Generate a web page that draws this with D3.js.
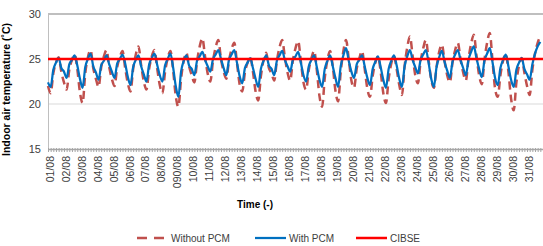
<!DOCTYPE html>
<html>
<head>
<meta charset="utf-8">
<script src="https://cdn.jsdelivr.net/npm/d3@7"></script>
<style>
  body { margin: 0; background: #fff; }
  text { font-family: "Liberation Sans", Arial, sans-serif; fill: #404040; }
  .label-text { font-weight: bold; fill: #000; }
</style>
</head>
<body>
<script>
var margin = {top: 14, right: 0, bottom: 97, left: 48},
    width = 543 - margin.left - margin.right,
    height = 246 - margin.top - margin.bottom;

// day labels (the 9th really is "090/08" in the original)
var dayLabels = ["01/08","02/08","03/08","04/08","05/08","06/08","07/08","08/08","090/08","10/08",
  "11/08","12/08","13/08","14/08","15/08","16/08","17/08","18/08","19/08","20/08",
  "21/08","22/08","23/08","24/08","25/08","26/08","27/08","28/08","29/08","30/08","31/08"];

// sample hours within each day
var sampleHours = [0, 4, 8, 12, 16, 20];

// indoor temperature without PCM, 6 samples per day
var withoutPCM = [
  22.0,21.2,23.4,24.6,25.2,23.6, 22.4,21.6,23.8,24.9,25.5,23.9, 21.3,20.1,23.4,25.2,26.0,24.0,
  22.8,21.9,24.1,25.3,26.0,24.1, 22.8,22.0,24.1,25.2,25.9,24.0, 22.3,21.4,23.9,25.5,26.4,24.3,
  22.5,21.6,23.9,25.3,26.0,24.0, 22.1,21.2,23.6,25.1,25.9,23.8, 20.9,19.7,22.8,24.8,25.7,24.2,
  23.2,22.4,24.7,26.4,27.3,25.3, 23.4,22.5,24.8,26.3,27.1,25.0, 23.6,22.8,24.8,26.1,26.8,24.6,
  22.2,21.4,23.5,24.6,25.2,23.6, 21.4,20.4,23.1,24.9,25.7,24.0, 23.4,22.6,24.8,26.3,27.1,25.2,
  23.5,22.6,24.8,26.2,27.0,24.8, 22.4,21.6,23.8,25.1,25.9,23.8, 20.9,19.7,22.9,24.9,25.9,24.2,
  21.5,20.3,23.6,25.9,27.1,25.0, 22.6,21.8,23.9,25.1,25.9,23.9, 21.7,20.8,23.1,24.6,25.3,23.6,
  21.2,20.1,22.8,24.5,25.3,23.9, 22.1,21.0,24.2,26.3,27.5,25.4, 23.2,22.3,24.7,26.2,27.1,24.9,
  22.7,21.8,24.1,25.8,26.6,24.8, 23.2,22.4,24.6,26.0,26.8,25.0, 23.5,22.6,25.0,26.7,27.7,25.4,
  23.2,22.2,24.9,26.8,27.9,24.9, 21.7,20.8,23.2,24.8,25.6,23.6, 20.6,19.3,22.4,24.3,25.1,23.5,
  22.0,21.0,23.8,25.6,26.8,27.5
];

// indoor temperature with PCM, 6 samples per day
var withPCM = [
  22.4,21.9,23.8,24.6,25.1,24.0, 23.6,22.9,24.4,24.9,25.4,24.3, 22.8,21.8,24.1,25.0,25.6,24.2,
  23.5,22.7,24.3,24.8,25.4,24.4, 23.6,22.9,24.5,25.0,25.5,24.5, 23.0,22.1,24.1,24.9,25.4,24.2,
  23.3,22.5,24.4,25.1,25.6,24.4, 23.2,22.5,24.3,25.0,25.6,24.1, 22.0,20.8,23.6,24.8,25.4,24.3,
  23.9,23.2,24.8,25.3,25.8,24.9, 24.2,23.6,25.0,25.5,26.0,25.0, 24.0,23.2,24.9,25.5,26.0,24.6,
  23.1,22.3,24.0,24.6,25.1,24.0, 22.8,21.9,23.9,24.8,25.4,24.3, 23.9,23.2,24.8,25.4,25.9,24.9,
  24.2,23.6,24.9,25.3,25.8,24.6, 23.2,22.5,24.2,24.9,25.4,24.1, 22.7,21.9,23.9,24.8,25.4,24.2,
  22.9,21.9,24.2,25.4,26.2,24.8, 23.6,22.9,24.4,24.9,25.4,24.2, 22.9,22.1,23.9,24.7,25.3,24.1,
  22.7,21.8,23.9,24.8,25.4,24.3, 22.8,21.9,24.2,25.3,26.0,24.9, 24.1,23.4,24.9,25.5,26.0,24.6,
  22.8,21.9,24.1,25.2,25.9,24.7, 23.7,22.9,24.7,25.5,26.0,24.9, 24.0,23.2,24.9,25.8,26.4,25.1,
  23.9,23.0,24.8,25.6,26.2,24.7, 22.9,22.1,24.0,24.9,25.5,24.2, 22.7,21.9,23.8,24.6,25.1,23.9,
  23.3,22.7,24.4,25.6,26.4,26.9
];

var cibse = 25;
var yTicks = [15, 20, 25, 30];

var seriesNames = ["Without PCM", "With PCM", "CIBSE"];

function toPoints(vals) {
  return vals.map(function(v, i) {
    var day = Math.floor(i / sampleHours.length);
    return {h: day * 24 + sampleHours[i % sampleHours.length], t: v};
  });
}

var x = d3.scaleLinear().domain([0, dayLabels.length * 24]).range([0, width]);
var y = d3.scaleLinear().domain([15, 30]).range([height, 0]);

var svg = d3.select("body").append("svg")
    .attr("width", 543)
    .attr("height", 246)
  .append("g")
    .attr("transform", "translate(" + margin.left + "," + margin.top + ")");

// gridlines
svg.append("g")
    .selectAll("line")
    .data(yTicks.slice(1))
    .enter().append("line")
    .attr("x1", 0).attr("x2", width)
    .attr("y1", function(d) { return y(d); })
    .attr("y2", function(d) { return y(d); })
    .style("stroke", function(d) { return d == 30 ? "#bfbfbf" : "#d9d9d9"; })
    .style("stroke-width", function(d) { return d == 30 ? 2 : 1; });

// y axis
var yAxis = svg.append("g")
    .call(d3.axisLeft(y).tickValues(yTicks).tickSize(0).tickPadding(7));
yAxis.select(".domain").style("stroke", "#bfbfbf");
yAxis.selectAll("text").style("font-size", "11px").style("fill", "#404040");

// x axis with dense minor ticks
var minorTicks = d3.range(0, dayLabels.length * 24 + 1, 4);
var xMinor = svg.append("g")
    .attr("transform", "translate(0," + height + ")")
    .call(d3.axisBottom(x).tickValues(minorTicks).tickFormat("").tickSize(3).tickSizeOuter(0));
xMinor.select(".domain").style("stroke", "#a6a6a6").style("stroke-width", 1.5);
xMinor.selectAll(".tick line").style("stroke", "#a6a6a6").attr("y1", -1);

// day labels
svg.append("g")
    .selectAll("text")
    .data(dayLabels)
    .enter().append("text")
    .attr("transform", function(d, i) {
      return "translate(" + (x(i * 24) + 2) + "," + (height + 7) + ") rotate(-90)";
    })
    .attr("dy", "0.35em")
    .style("text-anchor", "end")
    .style("font-size", "10.5px")
    .text(function(d) { return d; });

var line = d3.line()
    .x(function(d) { return x(d.h); })
    .y(function(d) { return y(d.t); })
    .curve(d3.curveMonotoneX);

svg.append("path")
    .datum(toPoints(withoutPCM))
    .attr("d", line)
    .style("fill", "none")
    .style("stroke", "#c0504d")
    .style("stroke-width", 2.5)
    .style("stroke-dasharray", "8,5");

svg.append("path")
    .datum(toPoints(withPCM))
    .attr("d", line)
    .style("fill", "none")
    .style("stroke", "#0070c0")
    .style("stroke-width", 2.25);

svg.append("line")
    .attr("x1", 0).attr("x2", width)
    .attr("y1", y(cibse)).attr("y2", y(cibse))
    .style("stroke", "#ff0000")
    .style("stroke-width", 2.5);

// axis titles
svg.append("text")
    .attr("transform", "translate(" + (-38) + "," + (height / 2 + 8) + ") rotate(-90)")
    .attr("class", "label-text")
    .style("text-anchor", "middle")
    .style("font-size", "10.5px")
    .text("Indoor air temperature (˚C)");

svg.append("text")
    .attr("x", 207)
    .attr("y", height + 59)
    .attr("class", "label-text")
    .style("text-anchor", "middle")
    .style("font-size", "10px")
    .text("Time (-)");

// legend
var legendX = [89, 207, 308];
var legend = svg.append("g")
    .attr("transform", "translate(0," + (238 - margin.top) + ")");
var lg = legend.selectAll("g")
    .data(seriesNames)
    .enter().append("g")
    .attr("transform", function(d, i) { return "translate(" + legendX[i] + ",0)"; });
lg.append("line")
    .attr("x1", 0).attr("x2", 31)
    .style("stroke", function(d, i) { return ["#c0504d", "#0070c0", "#ff0000"][i]; })
    .style("stroke-width", function(d, i) { return i == 1 ? 2.25 : 2.5; })
    .style("stroke-dasharray", function(d, i) { return i == 0 ? "10,7" : null; });
lg.append("text")
    .attr("x", 34)
    .attr("dy", "0.35em")
    .style("font-size", "10px")
    .text(function(d) { return d; });
</script>
</body>
</html>
